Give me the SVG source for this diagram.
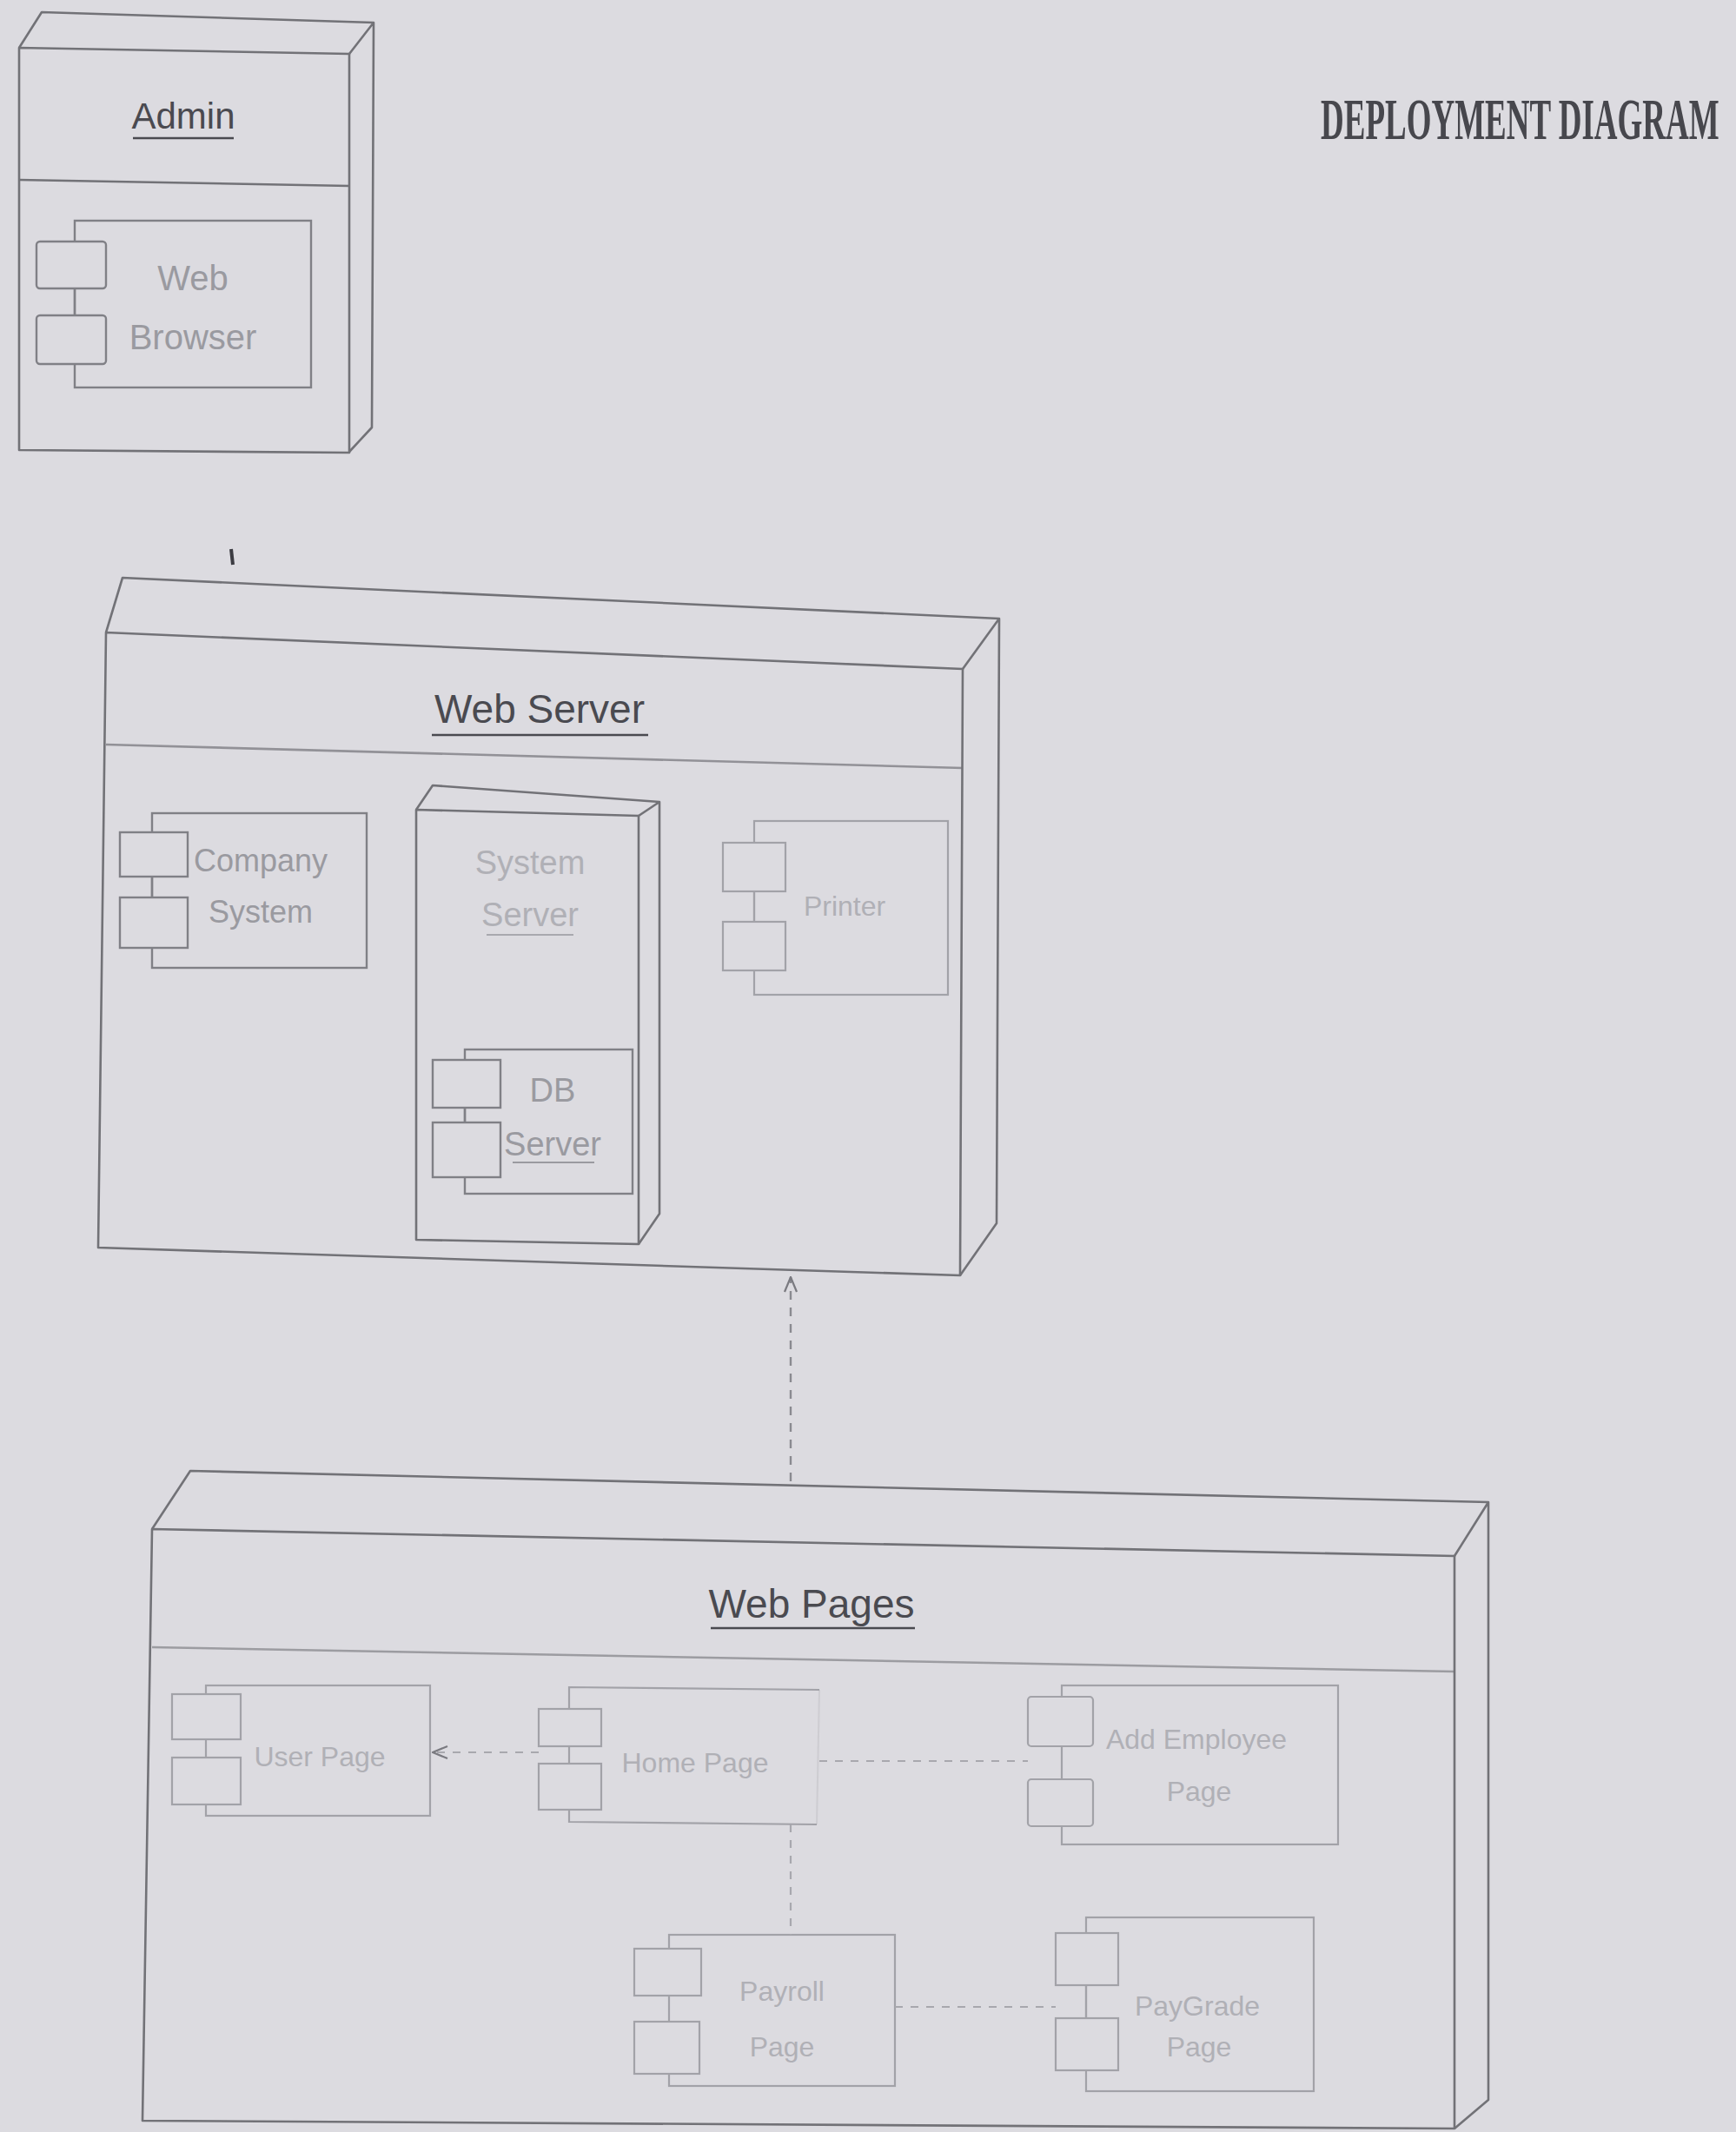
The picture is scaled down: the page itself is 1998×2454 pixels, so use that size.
<svg xmlns="http://www.w3.org/2000/svg" width="1998" height="2454" viewBox="0 0 1998 2454">
<style>
.bg{fill:#dcdbe0}
.nd{fill:none;stroke:#727277;stroke-width:2.6;stroke-linejoin:round}
.body{fill:#dcdbe0;stroke:#808086;stroke-width:2.4}
.sq{fill:#dcdbe0;stroke:#808086;stroke-width:2.4}
.fbody{fill:#dcdbe0;stroke:#a2a2a8;stroke-width:2.2}
.fsq{fill:#dcdbe0;stroke:#a2a2a8;stroke-width:2.2}
.name{font-family:"Liberation Sans",Arial,sans-serif;fill:#4a4a50;text-anchor:middle}
.ul{stroke:#4a4a50;stroke-width:2.5}
.lbl{font-family:"Liberation Sans",Arial,sans-serif;fill:#9a9aa0;text-anchor:middle}
.flbl{font-family:"Liberation Sans",Arial,sans-serif;fill:#b0b0b6;text-anchor:middle}
.dash{fill:none;stroke:#8a8a90;stroke-width:2.4;stroke-dasharray:10 9}
.fdash{fill:none;stroke:#a8a8ae;stroke-width:2.2;stroke-dasharray:9 9}
</style>
<defs>
<marker id="open" viewBox="0 0 20 20" refX="19" refY="10" markerWidth="20" markerHeight="20" markerUnits="userSpaceOnUse" orient="auto">
<path d="M2,3 L19,10 L2,17" fill="none" stroke="#7a7a80" stroke-width="2.2"/>
</marker>
</defs>
<rect class="bg" x="0" y="0" width="1998" height="2454"/>

<text transform="translate(1520,160) scale(1,1.8)" x="0" y="0" font-family="Liberation Serif, serif" font-weight="bold" font-size="37" fill="#47474d">DEPLOYMENT DIAGRAM</text>

<g id="admin">
<path class="nd" d="M22,55 L48,14 L430,26 L428,492 L402,520 M430,26 L402,62"/>
<path class="nd" d="M22,55 L402,62 L402,521 L22,518 Z"/>
<path class="nd" d="M22,207 L402,214"/>
<text class="name" x="211" y="148" font-size="42">Admin</text>
<line class="ul" x1="153" y1="159" x2="269" y2="159"/>
<g id="web-browser">
<rect class="body" x="86" y="254" width="272" height="192"/>
<rect class="sq" x="42" y="278" width="80" height="54" rx="4"/>
<rect class="sq" x="42" y="363" width="80" height="56" rx="4"/>
<line class="body" x1="86" y1="332" x2="86" y2="363"/>
<text class="lbl" x="222" y="334" font-size="40">Web</text>
<text class="lbl" x="222" y="402" font-size="40">Browser</text>
</g>
</g>

<g id="web-server">
<path class="nd" d="M122,728 L141,665 L1150,712 L1147,1408 L1105,1468 M1150,712 L1108,770"/>
<path class="nd" d="M122,728 L1108,770 L1105,1468 L113,1436 Z"/>
<path class="nd" d="M122,857 L1108,884" stroke-opacity="0.7"/>
<line x1="266" y1="632" x2="268" y2="650" stroke="#3c3c42" stroke-width="4"/>
<text class="name" x="621" y="832" font-size="46">Web Server</text>
<line class="ul" x1="497" y1="846" x2="746" y2="846"/>
<g id="company-system">
<rect class="body" x="175" y="936" width="247" height="178"/>
<rect class="sq" x="138" y="958" width="78" height="51"/>
<rect class="sq" x="138" y="1033" width="78" height="58"/>
<line class="body" x1="175" y1="1009" x2="175" y2="1033"/>
<text class="lbl" x="300" y="1003" font-size="36">Company</text>
<text class="lbl" x="300" y="1062" font-size="36">System</text>
</g>
<g id="system-server">
<path class="nd" d="M479,932 L498,904 L759,923 L759,1397 L735,1432 M759,923 L735,939"/>
<path class="nd" d="M479,932 L735,939 L735,1432 L479,1427 Z"/>
<text class="flbl" x="610" y="1006" font-size="38">System</text>
<text class="flbl" x="610" y="1066" font-size="38">Server</text>
<line x1="560" y1="1076" x2="660" y2="1076" stroke="#a8a8ae" stroke-width="2.2"/>
<g id="db-server">
<rect class="body" x="535" y="1208" width="193" height="166"/>
<rect class="sq" x="498" y="1220" width="78" height="55"/>
<rect class="sq" x="498" y="1292" width="78" height="63"/>
<line class="body" x1="535" y1="1275" x2="535" y2="1292"/>
<text class="lbl" x="636" y="1268" font-size="38">DB</text>
<text class="lbl" x="636" y="1330" font-size="38">Server</text>
<line x1="590" y1="1338" x2="684" y2="1338" stroke="#9a9aa0" stroke-width="2"/>
</g>
</g>
<g id="printer">
<rect class="fbody" x="868" y="945" width="223" height="200"/>
<rect class="fsq" x="832" y="970" width="72" height="56"/>
<rect class="fsq" x="832" y="1061" width="72" height="56"/>
<line class="fbody" x1="868" y1="1026" x2="868" y2="1061"/>
<text class="flbl" x="972" y="1054" font-size="32">Printer</text>
</g>
</g>

<g id="web-pages">
<path class="nd" d="M175,1760 L219,1693 L1713,1729 L1713,2417 L1674,2450 M1713,1729 L1674,1791"/>
<path class="nd" d="M175,1760 L1674,1791 L1674,2450 L164,2441 Z"/>
<path class="nd" d="M175,1896 L1674,1924" stroke-opacity="0.6"/>
<text class="name" x="934" y="1862" font-size="46">Web Pages</text>
<line class="ul" x1="818" y1="1874" x2="1053" y2="1874"/>
<g id="user-page">
<rect class="fbody" x="237" y="1940" width="258" height="150"/>
<rect class="fsq" x="198" y="1950" width="79" height="52"/>
<rect class="fsq" x="198" y="2023" width="79" height="54"/>
<text class="flbl" x="368" y="2033" font-size="32">User Page</text>
</g>
<g id="home-page">
<path class="fbody" d="M943,1945 L655,1942 L655,2097 L940,2100" fill="none"/>
<path d="M943,1945 L940,2100" fill="none" stroke="#a2a2a8" stroke-width="2" stroke-opacity="0.25"/>
<rect class="fsq" x="620" y="1967" width="72" height="43"/>
<rect class="fsq" x="620" y="2030" width="72" height="53"/>
<text class="flbl" x="800" y="2040" font-size="32">Home Page</text>
</g>
<g id="add-employee-page">
<rect class="fbody" x="1222" y="1940" width="318" height="183"/>
<rect class="fsq" x="1183" y="1953" width="75" height="57" rx="4"/>
<rect class="fsq" x="1183" y="2048" width="75" height="54" rx="4"/>
<text class="flbl" x="1377" y="2013" font-size="32">Add Employee</text>
<text class="flbl" x="1380" y="2073" font-size="32">Page</text>
</g>
<g id="payroll-page">
<rect class="fbody" x="770" y="2227" width="260" height="174"/>
<rect class="fsq" x="730" y="2243" width="77" height="54"/>
<rect class="fsq" x="730" y="2327" width="75" height="60"/>
<text class="flbl" x="900" y="2303" font-size="32">Payroll</text>
<text class="flbl" x="900" y="2367" font-size="32">Page</text>
</g>
<g id="paygrade-page">
<rect class="fbody" x="1250" y="2207" width="262" height="200"/>
<rect class="fsq" x="1215" y="2225" width="72" height="60"/>
<rect class="fsq" x="1215" y="2323" width="72" height="60"/>
<line class="fbody" x1="1250" y1="2285" x2="1250" y2="2323"/>
<text class="flbl" x="1378" y="2320" font-size="32">PayGrade</text>
<text class="flbl" x="1380" y="2367" font-size="32">Page</text>
</g>
</g>

<g id="connectors">
<path class="dash" d="M910,1705 L910,1470" marker-end="url(#open)"/>
<path class="fdash" d="M620,2017 L498,2017" marker-end="url(#open)"/>
<path class="fdash" d="M943,2027 L1183,2027"/>
<path class="fdash" d="M910,2100 L910,2227"/>
<path class="fdash" d="M1030,2310 L1215,2310"/>
</g>
</svg>
